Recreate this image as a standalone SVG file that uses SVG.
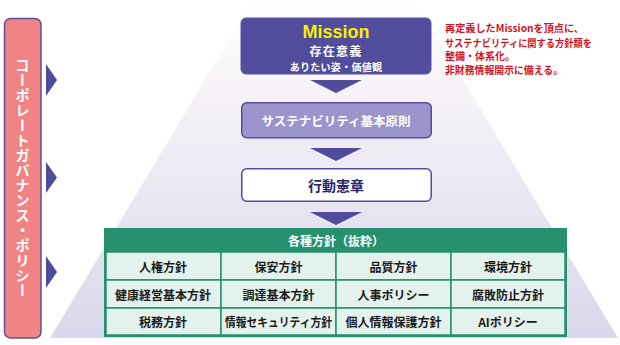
<svg xmlns="http://www.w3.org/2000/svg" width="620" height="345" viewBox="0 0 620 345">
<defs>
<linearGradient id="pyr" x1="0" y1="0" x2="0" y2="1">
<stop offset="0" stop-color="#ffffff"/>
<stop offset="0.25" stop-color="#f7f3f8"/>
<stop offset="1" stop-color="#d9d7eb"/>
</linearGradient>
<style>
text{font-family:"Noto Sans CJK JP","Noto Sans",sans-serif;font-weight:bold;text-anchor:middle;dominant-baseline:central}
.tri{fill:#514b9c}
.cell{fill:#e4f2ed;stroke:#27906e;stroke-width:1.5}
.ct{font-size:12px;fill:#1a1a1a}
.red{font-size:10px;fill:#d7101e;text-anchor:start}
</style>
</defs>
<rect width="620" height="345" fill="#ffffff"/>
<polygon points="253,0 415,0 618,338 50,338" fill="url(#pyr)"/>

<g id="governance">
<rect x="4.5" y="18.5" width="36.5" height="319.5" rx="6" fill="#f08383" stroke="#5a50a2" stroke-width="1.5"/>
<text x="22.5" y="178" font-size="14.5" fill="#ffffff" writing-mode="vertical-rl" letter-spacing="0.5" style="dominant-baseline:auto">コーポレートガバナンス・ポリシー</text>
<polygon class="tri" points="46,64 57,80 46,96"/>
<polygon class="tri" points="46,162 57,177.5 46,193"/>
<polygon class="tri" points="46,256 57,272 46,288"/>
</g>

<g id="connectors">
<polygon class="tri" points="310,80 362,80 336,93"/>
<polygon class="tri" points="310,148 362,148 336,161"/>
<polygon class="tri" points="310,212 362,212 336,225"/>
</g>

<g id="mission">
<rect x="241" y="18" width="190" height="56" rx="5" fill="#524c9c" stroke="#5a55a8" stroke-width="1"/>
<text x="336" y="31.5" font-size="18" fill="#f5f000" style="font-family:'Liberation Sans',Arial,sans-serif">Mission</text>
<text x="336" y="50" font-size="12" fill="#ffffff" letter-spacing="1.2">存在意義</text>
<text x="336" y="66" font-size="10" fill="#ffffff" letter-spacing="0.3">ありたい姿・価値観</text>
</g>

<g id="note">
<text class="red" x="445" y="27.5" textLength="139" lengthAdjust="spacingAndGlyphs">再定義したMissionを頂点に、</text>
<text class="red" x="445" y="42" textLength="147" lengthAdjust="spacingAndGlyphs">サステナビリティに関する方針類を</text>
<text class="red" x="445" y="55.5">整備・体系化。</text>
<text class="red" x="445" y="69" textLength="118" lengthAdjust="spacingAndGlyphs">非財務情報開示に備える。</text>
</g>

<g id="principles">
<rect x="241.75" y="102.75" width="189.5" height="35" rx="5" fill="#9b94cd" stroke="#524c9c" stroke-width="1.5"/>
<text x="336" y="120.5" font-size="12.5" fill="#ffffff">サステナビリティ基本原則</text>
</g>

<g id="charter">
<rect x="241.75" y="168.75" width="189.5" height="32.5" rx="5" fill="#ffffff" stroke="#524c9c" stroke-width="1.5"/>
<text x="336" y="185" font-size="14" fill="#2a2566">行動憲章</text>
</g>

<g id="policies">
<rect x="104" y="228" width="463" height="109" fill="#27906e"/>
<text x="336" y="240.5" font-size="12" fill="#ffffff">各種方針（抜粋）</text>
<rect class="cell" x="106" y="252" width="115" height="28"/>
<rect class="cell" x="221" y="252" width="115" height="28"/>
<rect class="cell" x="336" y="252" width="115" height="28"/>
<rect class="cell" x="451" y="252" width="114" height="28"/>
<rect class="cell" x="106" y="280" width="115" height="28"/>
<rect class="cell" x="221" y="280" width="115" height="28"/>
<rect class="cell" x="336" y="280" width="115" height="28"/>
<rect class="cell" x="451" y="280" width="114" height="28"/>
<rect class="cell" x="106" y="308" width="115" height="27"/>
<rect class="cell" x="221" y="308" width="115" height="27"/>
<rect class="cell" x="336" y="308" width="115" height="27"/>
<rect class="cell" x="451" y="308" width="114" height="27"/>
<text class="ct" x="163" y="266">人権方針</text>
<text class="ct" x="278.5" y="266">保安方針</text>
<text class="ct" x="393.5" y="266">品質方針</text>
<text class="ct" x="508" y="266">環境方針</text>
<text class="ct" x="163" y="294">健康経営基本方針</text>
<text class="ct" x="278.5" y="294">調達基本方針</text>
<text class="ct" x="393.5" y="294">人事ポリシー</text>
<text class="ct" x="508" y="294">腐敗防止方針</text>
<text class="ct" x="163" y="321.5">税務方針</text>
<text class="ct" x="278.5" y="321.5" textLength="107" lengthAdjust="spacingAndGlyphs">情報セキュリティ方針</text>
<text class="ct" x="393.5" y="321.5">個人情報保護方針</text>
<text class="ct" x="508" y="321.5">AIポリシー</text>
</g>
</svg>
